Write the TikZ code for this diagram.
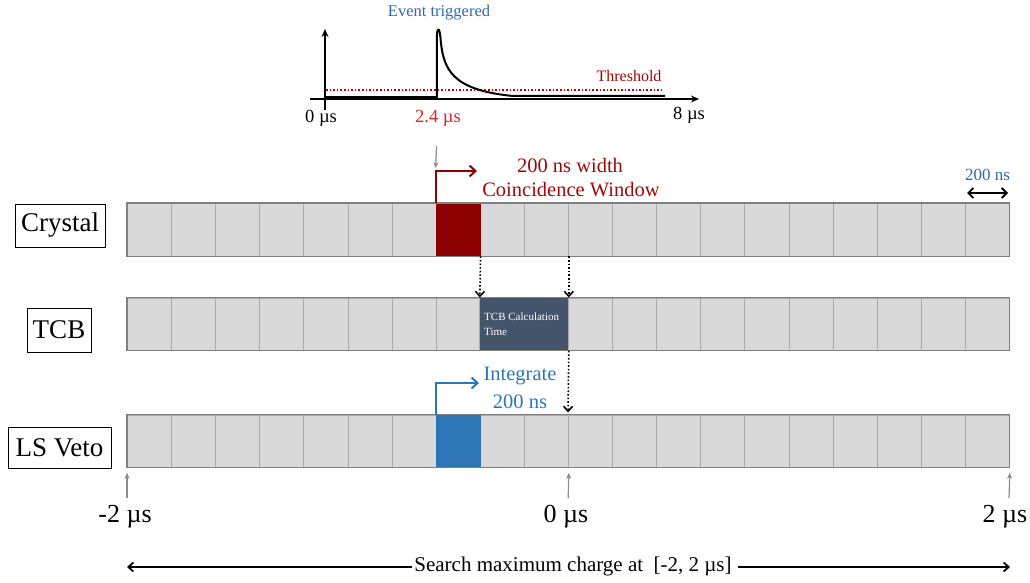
\documentclass[tikz,border=0pt]{standalone}
\usepackage{fontspec}
\setmainfont{Liberation Serif}
\usetikzlibrary{arrows.meta}
\definecolor{cellfill}{HTML}{D9D9D9}
\definecolor{celldraw}{HTML}{ABABAB}
\definecolor{barline}{HTML}{7F7F7F}
\definecolor{darkred}{HTML}{8B0000}
\definecolor{txtred}{HTML}{9A0A0A}
\definecolor{brightred}{HTML}{E02020}
\definecolor{thrred}{HTML}{C00000}
\definecolor{vetoblue}{HTML}{2E75B6}
\definecolor{navyblue}{HTML}{2E69AE}
\definecolor{tcbfill}{HTML}{44546A}
\definecolor{arrgray}{HTML}{8C8C8C}
\tikzset{
  cell/.style={draw=celldraw, line width=0.8pt, fill=cellfill, minimum width=44.1pt, minimum height=52.5pt, inner sep=0pt, anchor=north west},
  barborder/.style={draw=barline, line width=1.3pt},
  lbl/.style={draw=black, line width=0.8pt, inner sep=0pt, font=\fontsize{27}{32}\selectfont},
  dotarrow/.style={dotted, line width=1.6pt, -{Straight Barb[length=5pt,width=9pt]}},
  brk/.style={line width=2pt, -{Straight Barb[length=6pt,width=11pt]}},
  grayarrow/.style={arrgray, line width=1.2pt, -{Stealth[length=6pt,width=5pt]}},
  axis/.style={line width=1.5pt, -{Stealth[length=8pt,width=7pt]}},
}
\begin{document}
\begin{tikzpicture}[x=1pt,y=-1pt]
\useasboundingbox (0,0) rectangle (1030,583);
% ---------- top pulse graph ----------
\coordinate (yb) at (325,110);
\coordinate (yt) at (325,29);
\coordinate (xl) at (310,99);
\coordinate (xr) at (699,99);
\draw[axis] (yb) -- (yt);
\draw[axis] (xl) -- (xr);
\coordinate (th1) at (326,90);
\coordinate (th2) at (663,90);
\draw[thrred, dotted, line width=1.6pt] (th1) -- (th2);
\draw[line width=2pt, line join=round] (326,97.2) -- (436.8,97.2) -- (436.8,36)
  .. controls (437.3,27) and (439.5,27) .. (440.5,38)
  .. controls (443,70) and (452,90) .. (513,96) -- (665,96);
\node[navyblue, font=\fontsize{16.5}{20}\selectfont] (evt) at (439,13) {Event triggered};
\node[txtred, font=\fontsize{16}{20}\selectfont] (thr) at (629,76) {Threshold};
\node[font=\fontsize{18.5}{22}\selectfont] (t0) at (321,118) {0 µs};
\node[brightred, font=\fontsize{18.5}{22}\selectfont] (t24) at (438,118) {2.4 µs};
\node[font=\fontsize{18.5}{22}\selectfont] (t8) at (689,115) {8 µs};
% ---------- bars ----------
\foreach \i in {0,...,19} {
  \node[cell] (cr\i) at ({127+44.1*\i},203) {};
  \node[cell] (tc\i) at ({127+44.1*\i},297.5) {};
  \node[cell] (lv\i) at ({127+44.1*\i},414.5) {};
}
\fill[darkred] (cr7.north west) rectangle (cr7.south east);
\fill[vetoblue] (lv7.north west) rectangle (lv7.south east);
\fill[tcbfill] (tc8.north west) rectangle (tc9.south east);
\draw[celldraw, line width=0.8pt] (tc8.north west) -- (tc8.south west) (tc9.north east) -- (tc9.south east);
\node[white, font=\fontsize{11}{15}\selectfont, align=left, anchor=west, inner sep=0pt] (tcbtxt) at (484,324.5) {TCB Calculation\\Time};
\draw[barborder] (cr0.north west) rectangle (cr19.south east);
\draw[barborder] (tc0.north west) rectangle (tc19.south east);
\draw[barborder] (lv0.north west) rectangle (lv19.south east);
% ---------- row labels ----------
\node[lbl, minimum width=90pt, minimum height=43pt] (lcr) at (60,225.5) {Crystal};
\node[lbl, minimum width=64pt, minimum height=44pt] (ltc) at (59,330) {TCB};
\node[lbl, minimum width=103pt, minimum height=41pt] (llv) at (59.5,447.5) {LS Veto};
% ---------- trigger arrows ----------
\coordinate (g1) at (436.5,146);
\draw[grayarrow] (g1) -- (cr7.north west |- 0,168);
\coordinate (rtip) at (477,171);
\draw[brk, darkred, line join=miter] (cr7.north west) |- (rtip);
\node[txtred, font=\fontsize{20.5}{24}\selectfont] (cw1) at (570,165) {200 ns width};
\node[txtred, font=\fontsize{20.5}{24}\selectfont] (cw2) at (571,190) {Coincidence Window};
\coordinate (btip) at (479,383);
\draw[brk, vetoblue] (lv7.north west) |- (btip);
\node[vetoblue, font=\fontsize{20.5}{24}\selectfont] (int1) at (520,376) {Integrate};
\node[vetoblue, font=\fontsize{20.5}{24}\selectfont] (int2) at (520,402) {200 ns};
% dotted arrows
\draw[dotarrow] (cr7.south east) -- (tc8.north west);
\draw[dotarrow] (cr9.south east) -- (tc9.north east);
\draw[dotarrow, shorten >=2pt] (tc9.south east) -- (lv10.north west);
% 200 ns scale
\coordinate (s1) at (967,193);
\coordinate (s2) at (1008,193);
\draw[line width=1.8pt, {Straight Barb[length=5pt,width=10pt]}-{Straight Barb[length=5pt,width=10pt]}] (s1) -- (s2);
\node[navyblue, font=\fontsize{17}{20}\selectfont] (s200) at (987.5,175) {200 ns};
% ---------- bottom ----------
\coordinate (b1) at (127,498);
\coordinate (b2) at (568.2,498);
\coordinate (b3) at (1009,498);
\draw[grayarrow] (b1) -- ([yshift=-5pt]lv0.south west);
\draw[grayarrow] (b2) -- ([yshift=-5pt]lv9.south east);
\draw[grayarrow] (b3) -- ([yshift=-5pt]lv19.south east);
\node[font=\fontsize{26}{30}\selectfont] (m2) at (125,517) {-2 µs};
\node[font=\fontsize{26}{30}\selectfont] (z0) at (566,517) {0 µs};
\node[font=\fontsize{26}{30}\selectfont] (p2) at (1005,517) {2 µs};
\node[font=\fontsize{21}{24}\selectfont, inner xsep=2pt] (search) at (573,566) {Search maximum charge at\ \ [-2, 2 µs]};
\coordinate (sl) at (127,567);
\coordinate (sr) at (1010,567);
\draw[line width=1.8pt, -{Straight Barb[length=5pt,width=9pt]}] (search.west |- sl) -- (sl);
\draw[line width=1.8pt, -{Straight Barb[length=5pt,width=9pt]}] ([xshift=4pt]search.east |- sr) -- (sr);
\end{tikzpicture}
\end{document}
